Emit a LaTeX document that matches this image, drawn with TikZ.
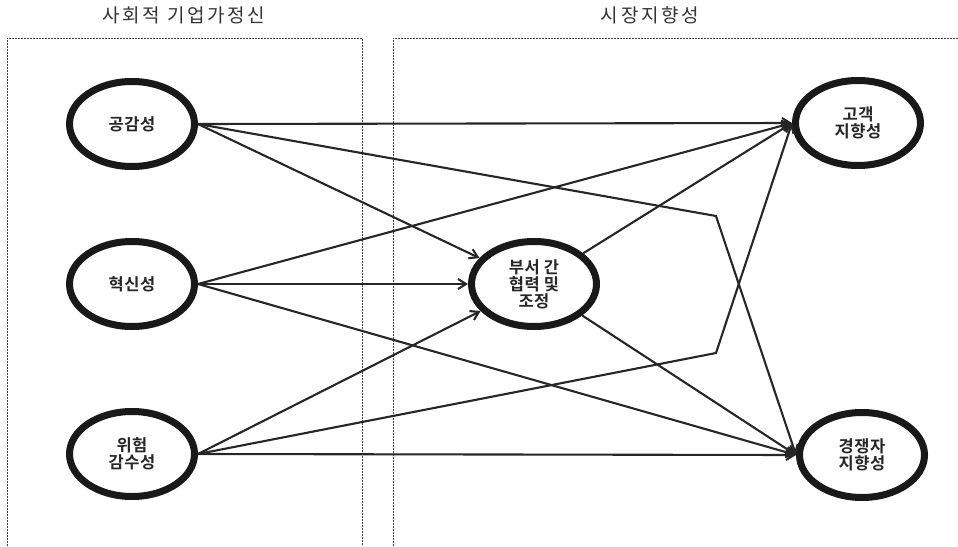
\documentclass[tikz,border=0pt]{standalone}
\usepackage{fontspec}
\newfontfamily\kr[LetterSpace=3,BoldFont={Noto Sans CJK KR Bold}]{Noto Sans CJK KR}
\newfontfamily\krt[LetterSpace=14]{Noto Sans CJK KR}
\usetikzlibrary{arrows.meta,shapes.geometric}
\begin{document}
\begin{tikzpicture}[x=1pt,y=-1pt,
  var/.style={ellipse,draw=black!90,line width=7pt,minimum width=125pt,minimum height=85pt,inner sep=0pt,
    font=\kr\bfseries\fontsize{16.5}{17}\selectfont,align=center,text=black!85},
  arr/.style={line width=2.1pt,draw=black!85,-{Straight Barb[length=8pt,width=10pt]}},
  box/.style={draw=black!75,line width=0.9pt,dash pattern=on 2pt off 1pt},
  ttl/.style={font=\krt\fontsize{19}{21}\selectfont,text=black!80}]
\useasboundingbox (0,0) rectangle (958,546);
% boxes
\draw[box] (7,546) -- (7,38) -- (362,38) -- (362,546);
\draw[box] (393,546) -- (393,38) -- (958,38);
\node[ttl] (t1) at (184,15) {사회적 기업가정신};
\node[ttl] (t2) at (650,15) {시장지향성};
% nodes
\node[var] (a) at (132,124) {공감성};
\node[var] (b) at (132,284) {혁신성};
\node[var] (c) at (132,454) {위험\\감수성};
\node[var] (m) at (534,284) {부서 간\\협력 및\\조정};
\node[var] (g) at (858,123) {고객\\지향성};
\node[var] (k) at (862,455) {경쟁자\\지향성};
\coordinate (p1) at (716,216);
\coordinate (p2) at (716,353);
% connectors
\draw[arr] (a.east) -- (g.west);
\draw[arr] (a.east) -- (p1) -- (k.west);
\draw[arr] (a.east) -- (m);
\draw[arr] (b.east) -- (g.west);
\draw[arr] (b.east) -- (m);
\draw[arr] (b.east) -- (k.west);
\draw[arr] (c.east) -- (m);
\draw[arr] (c.east) -- (p2) -- (g.west);
\draw[arr] (c.east) -- (k.west);
\draw[arr] (m) -- (g.west);
\draw[arr] (m) -- (k.west);
\end{tikzpicture}
\end{document}
